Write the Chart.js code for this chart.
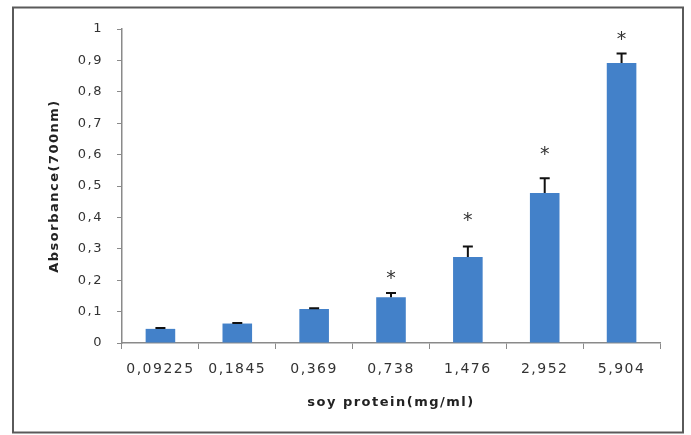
<!DOCTYPE html>
<html lang="en">
<head>
    <meta charset="UTF-8">
    <title>Soy protein absorbance</title>
    <script src="https://cdn.jsdelivr.net/npm/chart.js"></script>
    <style>
        body {
            margin: 0;
            padding: 0;
            background: #fff;
        }
        .chart-box {
            position: relative;
            width: 691px;
            height: 435px;
        }
    </style>
</head>
<body>
    <div class="chart-box">
        <canvas id="absChart" width="691" height="435"></canvas>
    </div>

    <script>
        // data
        const concentrations = ['0,09225', '0,1845', '0,369', '0,738', '1,476', '2,952', '5,904'];
        const absorbance = [0.045, 0.062, 0.108, 0.146, 0.274, 0.478, 0.892];
        const errors = [0.003, 0.002, 0.003, 0.013, 0.033, 0.047, 0.03];
        // height (in absorbance units) where each significance star sits, null = no star
        const starLevel = [null, null, null, 0.217, 0.402, 0.612, 0.976];
        const yTicks = [0, 0.1, 0.2, 0.3, 0.4, 0.5, 0.6, 0.7, 0.8, 0.9, 1];

        const fmt = v => String(Math.round(v * 10) / 10).replace('.', ',');

        // error bars, stars and the outer frame
        const extras = {
            id: 'extras',
            beforeUpdate(chart) { chart.ctx.letterSpacing = '1.5px'; },
            beforeDraw(chart) {
                const ctx = chart.ctx;
                ctx.letterSpacing = '1.5px';
                ctx.save();
                ctx.strokeStyle = '#5a5a5a';
                ctx.lineWidth = 2;
                ctx.strokeRect(13, 7.5, 670, 425);
                ctx.restore();
            },
            afterDatasetsDraw(chart) {
                const ctx = chart.ctx;
                const y = chart.scales.y;
                const meta = chart.getDatasetMeta(0);
                ctx.save();
                ctx.strokeStyle = '#111';
                ctx.lineWidth = 2;
                meta.data.forEach((bar, i) => {
                    const top = y.getPixelForValue(absorbance[i] + errors[i]);
                    ctx.beginPath();
                    ctx.moveTo(bar.x, bar.y);
                    ctx.lineTo(bar.x, top);
                    ctx.moveTo(bar.x - 5, top);
                    ctx.lineTo(bar.x + 5, top);
                    ctx.stroke();
                    if (starLevel[i] !== null) {
                        ctx.fillStyle = '#333';
                        ctx.font = '19px "DejaVu Sans"';
                        ctx.textAlign = 'center';
                        ctx.textBaseline = 'middle';
                        ctx.letterSpacing = '0px';
                        ctx.fillText('*', bar.x, y.getPixelForValue(starLevel[i]) + 4);
                    }
                });
                ctx.restore();
            }
        };

        new Chart(document.getElementById('absChart'), {
            type: 'bar',
            data: {
                labels: concentrations,
                datasets: [{
                    data: absorbance,
                    backgroundColor: '#4381c9',
                    borderWidth: 0,
                    barPercentage: 0.385,
                    categoryPercentage: 1
                }]
            },
            options: {
                responsive: false,
                animation: false,
                layout: { padding: { top: 29, right: 31, left: 0, bottom: 0 } },
                plugins: {
                    legend: { display: false },
                    tooltip: { enabled: false }
                },
                scales: {
                    x: {
                        grid: {
                            offset: true,
                            drawOnChartArea: false,
                            tickLength: 6,
                            color: '#8a8a8a'
                        },
                        border: { color: '#8a8a8a', width: 1.5 },
                        ticks: {
                            color: '#333',
                            font: { family: 'DejaVu Sans', size: 14 },
                            padding: 12,
                            maxRotation: 0,
                            autoSkip: false
                        },
                        title: {
                            display: true,
                            text: 'soy protein(mg/ml)',
                            color: '#222',
                            font: { family: 'DejaVu Sans', size: 13, weight: 'bold' },
                            padding: { top: 0, bottom: 25 }
                        },
                        afterFit(scale) { scale.height = 92; }
                    },
                    y: {
                        min: 0,
                        max: 1,
                        afterBuildTicks(scale) {
                            scale.ticks = yTicks.map(v => ({ value: v }));
                        },
                        grid: {
                            drawOnChartArea: false,
                            tickLength: 5,
                            color: '#8a8a8a'
                        },
                        border: { color: '#8a8a8a', width: 1.5 },
                        ticks: {
                            color: '#333',
                            font: { family: 'DejaVu Sans', size: 13 },
                            padding: 14,
                            callback: v => fmt(v)
                        },
                        title: {
                            display: true,
                            text: 'Absorbance(700nm)',
                            color: '#222',
                            font: { family: 'DejaVu Sans', size: 13, weight: 'bold' },
                            padding: { top: 47, bottom: 0 }
                        },
                        afterFit(scale) { scale.width = 122; }
                    }
                }
            },
            plugins: [extras]
        });
    </script>
</body>
</html>
